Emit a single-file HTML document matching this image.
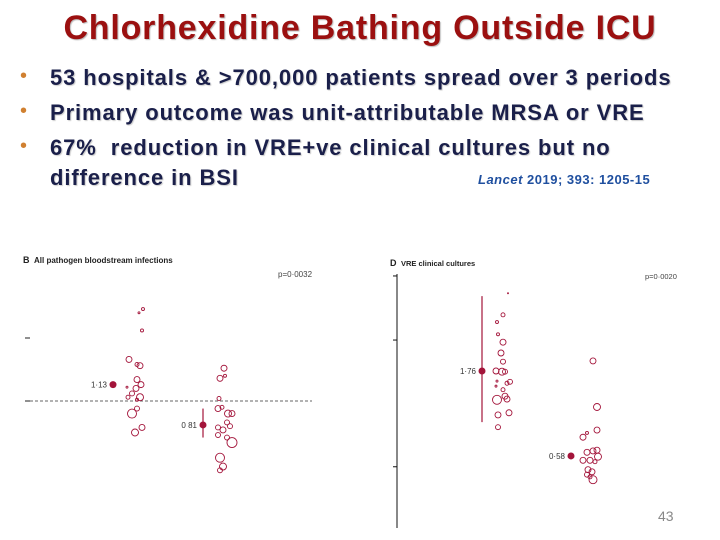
<!DOCTYPE html>
<html><head><meta charset="utf-8"><style>
body{margin:0;width:720px;height:540px;background:#fff;overflow:hidden;font-family:"Liberation Sans",sans-serif;position:relative}
.t{position:absolute;white-space:nowrap}
#title{left:0;width:720px;text-align:center;top:9px;font-size:34px;font-weight:bold;letter-spacing:0.8px;color:#9b1010;text-shadow:1px 1px 1px #bbb}
.b{left:50px;font-size:22px;letter-spacing:0.9px;font-weight:bold;color:#1a1f4a;text-shadow:1px 1px 1px #ccc}
.dot{left:20px;font-size:20px;color:#d08030}
#cite{left:478px;top:172px;font-size:13px;letter-spacing:0.5px;color:#1f4f9f;font-weight:bold}
svg{position:absolute;left:0;top:0}
</style></head><body>
<div class="t" id="title">Chlorhexidine Bathing Outside ICU</div>
<div class="t dot" style="top:65px">•</div>
<div class="t dot" style="top:100px">•</div>
<div class="t dot" style="top:135px">•</div>
<div class="t b" style="top:65px">53 hospitals &amp; &gt;700,000 patients spread over 3 periods</div>
<div class="t b" style="top:100px">Primary outcome was unit-attributable MRSA or VRE</div>
<div class="t b" style="top:135px">67%&nbsp; reduction in VRE+ve clinical cultures but no</div>
<div class="t b" style="top:165px">difference in BSI</div>
<div class="t" id="cite"><i>Lancet</i> 2019; 393: 1205-15</div>
<svg id="c" width="720" height="540"></svg>
<script>
// Panel B (left)
const bCol1Val=[1.73,1.70,1.56,1.33,1.28,1.29,1.17,1.13,1.10,1.06,1.03,1.03,1.01,0.90,0.94,0.79,0.75,1.11];
const bCol1Jit=[6,2,5,-8,3,0,0,4,-1,-5,3,-9,0,-5,0,5,-2,-10];
const bCol1Size=[1.5,1,1.5,3,3,2,3,3,3,2.5,3.5,2,1.5,4.5,2.5,3,3.5,1];
const bCol2Val=[1.26,1.18,1.20,1.02,0.94,0.95,0.90,0.90,0.83,0.79,0.80,0.77,0.73,0.71,0.67,0.55,0.48,0.45];
const bCol2Jit=[2,-2,3,-3,-4,0,6,10,5,-4,8,1,-4,5,10,-2,1,-2];
const bCol2Size=[3,3,1.5,2,3,2,3.5,3,2.5,2.5,2.5,3,2.5,2.5,5,4.5,3.5,2.5];
const bMeans=[1.13,0.81];const bMeanLabels=["1·13","0 81"];const bCI=[[1.13,1.13],[0.71,0.94]];
const bTicks=[1.5,1.0];
// Panel D (right)
const dCol1Val=[2.84,2.54,2.44,2.27,2.16,2.01,1.89,1.76,1.75,1.75,1.61,1.59,1.62,1.55,1.50,1.41,1.36,1.37,1.15,1.18,0.98];
const dCol1Jit=[6,1,-5,-4,1,-1,1,-6,0,3,8,5,-5,-6,1,3,-5,5,-4,7,-4];
const dCol1Size=[0.5,2,1.5,1.5,3,3,2.5,3,3.5,2.5,2.5,2,1,1,2,3,4.5,3,3,3,2.5];
const dCol2Val=[1.90,1.26,0.94,0.84,0.90,0.63,0.65,0.66,0.57,0.52,0.52,0.50,0.39,0.36,0.32,0.25,0.29];
const dCol2Jit=[3,7,7,-7,-3,-3,3,7,8,-7,0,5,-2,2,-3,3,0];
const dCol2Size=[3,3.5,3,3,1.5,3,3,3,3.5,3,3,2,3,3,2.5,4,2];
const dMeans=[1.76,0.58];const dMeanLabels=["1·76","0·58"];const dCI=[[1.05,2.80],[0.58,0.58]];
const dTicks=[3.08,2.19,0.43];

const NS="http://www.w3.org/2000/svg",svg=document.getElementById('c');
const C="#a3143a";
function mk(tag,at,txt){const e=document.createElementNS(NS,tag);for(const k in at)e.setAttribute(k,at[k]);if(txt)e.textContent=txt;svg.appendChild(e);return e;}
const yB=v=>401-(v-1)*126, yD=v=>371-(v-1.76)*72;
let e=mk('text',{x:23,y:263,'font-size':9,'font-weight':'bold',fill:'#222'},'B');


e=mk('text',{x:34,y:263,'font-size':8,'font-weight':'bold',fill:'#222'},'All pathogen bloodstream infections');


e=mk('text',{x:278,y:277,'font-size':8,fill:'#444'},'p=0·0032');


e=mk('line',{x1:25,x2:312,y1:yB(1),y2:yB(1),stroke:'#333','stroke-width':0.8,'stroke-dasharray':'3,2'});


bTicks.forEach(t=>{e=mk('line',{x1:25,x2:30,y1:yB(t),y2:yB(t),stroke:'#222'});

});
function pts(vals,jit,size,cx,ys,nm){vals.forEach((v,i)=>{e=mk('circle',{cx:cx+jit[i],cy:ys(v),r:size[i],fill:'none',stroke:C,'stroke-width':0.9});

});}
pts(bCol1Val,bCol1Jit,bCol1Size,137,yB,'panel-b-unit-before');
pts(bCol2Val,bCol2Jit,bCol2Size,222,yB,'panel-b-unit-after');
function means(m,lab,ci,xs,ys,nm){m.forEach((v,i)=>{
 if(ci[i][0]!==ci[i][1]){e=mk('line',{x1:xs[i],x2:xs[i],y1:ys(ci[i][0]),y2:ys(ci[i][1]),stroke:C,'stroke-width':1.2});
 
 }
 e=mk('circle',{cx:xs[i],cy:ys(v),r:3.5,fill:C});
 
 
 e=mk('text',{x:xs[i]-6,y:ys(v)+3,'font-size':8,fill:'#333','text-anchor':'end'},lab[i]);
 
 });}
means(bMeans,bMeanLabels,bCI,[113,203],yB,'panel-b');
e=mk('text',{x:390,y:266,'font-size':9,'font-weight':'bold',fill:'#222'},'D');


e=mk('text',{x:401,y:266,'font-size':7.5,'font-weight':'bold',fill:'#222'},'VRE clinical cultures');


e=mk('text',{x:645,y:279,'font-size':7.5,fill:'#444'},'p=0·0020');


e=mk('line',{x1:397,x2:397,y1:274,y2:528,stroke:'#111','stroke-width':1});


dTicks.forEach(t=>{e=mk('line',{x1:393,x2:397,y1:yD(t),y2:yD(t),stroke:'#111'});

});
pts(dCol1Val,dCol1Jit,dCol1Size,502,yD,'panel-d-unit-before');
pts(dCol2Val,dCol2Jit,dCol2Size,590,yD,'panel-d-unit-after');
means(dMeans,dMeanLabels,dCI,[482,571],yD,'panel-d');
e=mk('text',{x:658,y:521,'font-size':14,fill:'#888'},'43');


</script>
</body></html>
